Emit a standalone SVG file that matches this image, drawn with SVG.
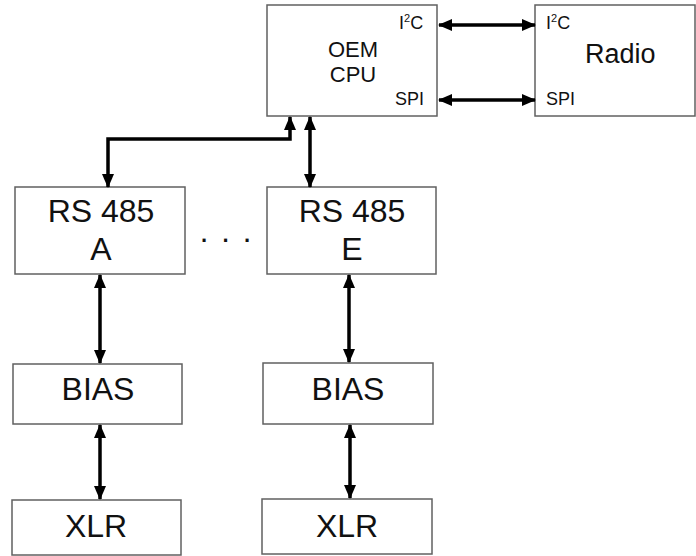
<svg xmlns="http://www.w3.org/2000/svg" width="696" height="556" viewBox="0 0 696 556">
<style>
.box{fill:#fff;stroke:#606060;stroke-width:1.5}
.t{font-family:"Liberation Sans",Arial,sans-serif;fill:#111}
.big{font-size:32px;text-anchor:middle}
.mid{font-size:22px;text-anchor:middle}
.sm{font-size:18px}
.c{fill:none;stroke:#000;stroke-width:3.5}
</style>
<defs>
<marker id="ah" markerUnits="userSpaceOnUse" markerWidth="14" markerHeight="14" viewBox="0 0 14 14" refX="13" refY="7" orient="auto-start-reverse">
<path d="M0,1 L14,7 L0,13 Z" fill="#000"/>
</marker>
</defs>
<rect width="696" height="556" fill="#fff"/>
<g id="cpu">
<rect class="box" x="267" y="5" width="170" height="111"/>
<text class="t mid" x="353" y="57">OEM</text>
<text class="t mid" x="353" y="82">CPU</text>
<text class="t sm" x="399" y="29">I<tspan font-size="11" dy="-7">2</tspan><tspan dy="7">C</tspan></text>
<text class="t sm" x="395" y="105">SPI</text>
</g>
<g id="radio">
<rect class="box" x="535" y="5" width="160" height="111"/>
<text class="t" font-size="27" x="585" y="63">Radio</text>
<text class="t sm" x="546" y="29">I<tspan font-size="11" dy="-7">2</tspan><tspan dy="7">C</tspan></text>
<text class="t sm" x="546" y="105">SPI</text>
</g>
<g id="rsa">
<rect class="box" x="15" y="187" width="170" height="87"/>
<text class="t big" x="101" y="222">RS 485</text>
<text class="t big" x="101" y="260">A</text>
</g>
<g id="rse">
<rect class="box" x="267" y="187" width="169" height="87"/>
<text class="t big" x="352" y="222">RS 485</text>
<text class="t big" x="352" y="260">E</text>
</g>
<g id="dots">
<text class="t big" x="226" y="249" letter-spacing="1">· · ·</text>
</g>
<g id="biasa">
<rect class="box" x="13" y="364" width="169" height="60"/>
<text class="t big" x="98" y="400">BIAS</text>
</g>
<g id="biase">
<rect class="box" x="263" y="363" width="170" height="61"/>
<text class="t big" x="348" y="400">BIAS</text>
</g>
<g id="xlra">
<rect class="box" x="12" y="500" width="169" height="55"/>
<text class="t big" x="96" y="537">XLR</text>
</g>
<g id="xlre">
<rect class="box" x="262" y="499" width="170" height="55"/>
<text class="t big" x="347" y="537">XLR</text>
</g>
<g id="connectors">
<line class="c" x1="439" y1="25" x2="535" y2="25" marker-start="url(#ah)" marker-end="url(#ah)"/>
<line class="c" x1="439" y1="100" x2="535" y2="100" marker-start="url(#ah)" marker-end="url(#ah)"/>
<polyline class="c" points="290,117 290,139 108,139 108,187" marker-start="url(#ah)" marker-end="url(#ah)"/>
<line class="c" x1="310" y1="117" x2="310" y2="187" marker-start="url(#ah)" marker-end="url(#ah)"/>
<line class="c" x1="100" y1="275" x2="100" y2="363" marker-start="url(#ah)" marker-end="url(#ah)"/>
<line class="c" x1="100" y1="425" x2="100" y2="499" marker-start="url(#ah)" marker-end="url(#ah)"/>
<line class="c" x1="349" y1="275" x2="349" y2="362" marker-start="url(#ah)" marker-end="url(#ah)"/>
<line class="c" x1="350" y1="425" x2="350" y2="498" marker-start="url(#ah)" marker-end="url(#ah)"/>
</g>
</svg>
